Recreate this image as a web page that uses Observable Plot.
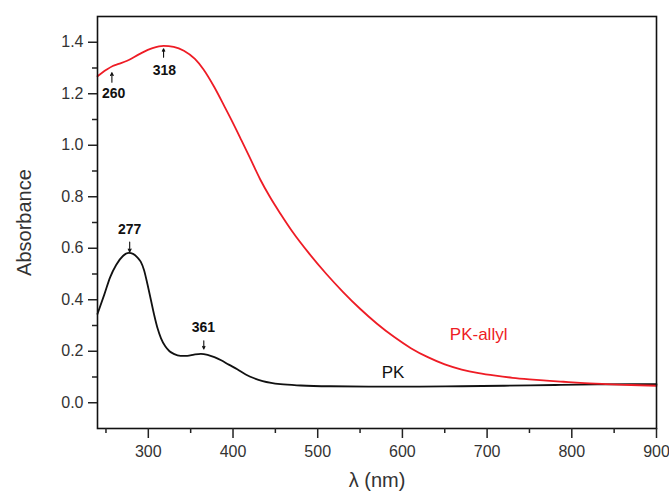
<!DOCTYPE html>
<html>
<head>
<meta charset="utf-8">
<script src="https://cdn.jsdelivr.net/npm/d3@7"></script>
<script src="https://cdn.jsdelivr.net/npm/@observablehq/plot@0.6"></script>
<style>
  html, body { margin: 0; padding: 0; background: #fff; }
  #chart svg { display: block; }
</style>
</head>
<body>
<div id="chart"></div>
<script>
// PK (black) spectrum
const pkWavelength = [240, 248, 255, 262, 270, 277, 282, 287, 291, 295, 299, 303, 307, 311, 315, 320, 325, 330, 338, 346, 354, 362, 370, 378, 386, 395, 405, 415, 425, 435, 445, 456, 480, 515, 560, 620, 670, 720, 780, 830, 900];
const pkAbsorbance = [0.345, 0.42, 0.488, 0.535, 0.57, 0.582, 0.578, 0.565, 0.548, 0.515, 0.46, 0.40, 0.34, 0.288, 0.25, 0.219, 0.2, 0.19, 0.182, 0.182, 0.187, 0.19, 0.186, 0.177, 0.165, 0.148, 0.13, 0.11, 0.095, 0.084, 0.077, 0.072, 0.067, 0.064, 0.063, 0.063, 0.064, 0.066, 0.069, 0.071, 0.072];

// PK-allyl (red) spectrum
const allylWavelength = [240, 250, 258, 265, 275, 290, 305, 318, 330, 342, 355, 365, 378, 390, 400, 410, 420, 432, 444, 456, 470, 490, 510, 530, 550, 570, 590, 610, 630, 650, 670, 690, 710, 730, 750, 770, 790, 810, 840, 870, 900];
const allylAbsorbance = [1.268, 1.292, 1.308, 1.316, 1.328, 1.355, 1.377, 1.386, 1.382, 1.367, 1.335, 1.295, 1.225, 1.150, 1.086, 1.019, 0.951, 0.868, 0.797, 0.734, 0.665, 0.579, 0.501, 0.430, 0.365, 0.307, 0.256, 0.212, 0.177, 0.149, 0.129, 0.115, 0.105, 0.097, 0.091, 0.086, 0.0815, 0.077, 0.0725, 0.069, 0.066];

// Axis ticks
const xTicks = [300, 400, 500, 600, 700, 800, 900];
const xMinorTicks = [250, 350, 450, 550, 650, 750, 850];
const yTicks = [0.0, 0.2, 0.4, 0.6, 0.8, 1.0, 1.2, 1.4];
const yMinorTicks = [0.1, 0.3, 0.5, 0.7, 0.9, 1.1, 1.3];

// Peak annotations
const peakLabels = ["260", "318", "277", "361"];
const peakLabelX = [259, 319, 278, 365];
const peakLabelY = [1.202, 1.290, 0.671, 0.292];
const peakArrowX = [257, 318, 278, 365.5];
const peakArrowFrom = [1.245, 1.342, 0.624, 0.241];
const peakArrowTo = [1.282, 1.375, 0.585, 0.209];

// Series labels
const seriesNames = ["PK", "PK-allyl"];
const seriesLabelX = [589, 690];
const seriesLabelY = [0.117, 0.264];
const seriesColors = ["#111111", "#ee1c25"];

const pkData = pkWavelength.map((w, i) => ({w, a: pkAbsorbance[i]}));
const allylData = allylWavelength.map((w, i) => ({w, a: allylAbsorbance[i]}));
const peaks = peakLabels.map((t, i) => ({t, x: peakLabelX[i], y: peakLabelY[i], ax: peakArrowX[i], y1: peakArrowFrom[i], y2: peakArrowTo[i]}));
const series = seriesNames.map((t, i) => ({t, x: seriesLabelX[i], y: seriesLabelY[i], c: seriesColors[i]}));

const chart = Plot.plot({
  width: 669,
  height: 496,
  marginLeft: 97,
  marginRight: 13,
  marginTop: 16,
  marginBottom: 68,
  style: {fontFamily: "'Liberation Sans', Arial, sans-serif", color: "#222", background: "#fff"},
  x: {domain: [240, 900]},
  y: {domain: [-0.1, 1.5]},
  marks: [
    Plot.line(pkData, {x: "w", y: "a", stroke: seriesColors[0], strokeWidth: 1.8, curve: "monotone-x"}),
    Plot.line(allylData, {x: "w", y: "a", stroke: seriesColors[1], strokeWidth: 1.8, curve: "monotone-x"}),
    Plot.frame({stroke: "#111", strokeWidth: 1.6}),
    Plot.axisX(xTicks, {tickSize: 10, tickPadding: 7, fontSize: 16, label: null, stroke: "#222", fill: "#333", strokeWidth: 1.5, tickFormat: d => String(d)}),
    Plot.axisX(xMinorTicks, {tickSize: 5, label: null, stroke: "#222", strokeWidth: 1.5, tickFormat: () => ""}),
    Plot.axisY(yTicks, {tickSize: 9, tickPadding: 5, fontSize: 16, label: null, stroke: "#222", fill: "#333", strokeWidth: 1.5, tickFormat: d => d.toFixed(1)}),
    Plot.axisY(yMinorTicks, {tickSize: 5, label: null, stroke: "#222", strokeWidth: 1.5, tickFormat: () => ""}),
    Plot.text(["Absorbance"], {frameAnchor: "left", textAnchor: "middle", dx: -73, rotate: -90, fontSize: 20, fill: "#333"}),
    Plot.text(["λ (nm)"], {frameAnchor: "bottom", dy: 58, fontSize: 20, fill: "#333"}),
    Plot.text(peaks, {x: "x", y: "y", text: "t", fontSize: 14, fontWeight: "bold", fill: "#111"}),
    Plot.arrow(peaks, {x1: "ax", x2: "ax", y1: "y1", y2: "y2", stroke: "#111", strokeWidth: 1.1, headLength: 5, headAngle: 50}),
    Plot.text(series, {x: "x", y: "y", text: "t", fill: "c", fontSize: 17})
  ]
});
document.getElementById("chart").appendChild(chart);
</script>
</body>
</html>
